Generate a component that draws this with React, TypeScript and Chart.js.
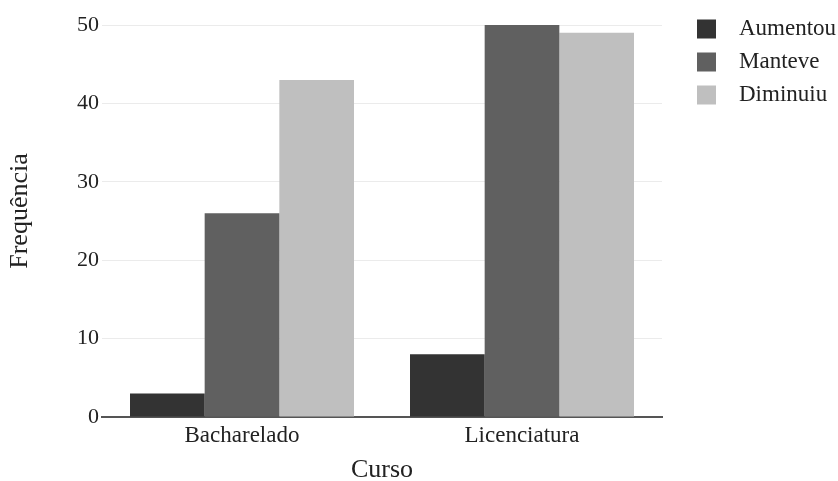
import React, { useEffect, useRef } from 'react';
import { Chart, registerables } from 'chart.js';

Chart.register(...registerables);

const categories = ['Bacharelado', 'Licenciatura'];
const seriesNames = ['Aumentou', 'Manteve', 'Diminuiu'];
const aumentou = [3, 8];
const manteve = [26, 50];
const diminuiu = [43, 49];
const yTicks = [0, 10, 20, 30, 40, 50];
const seriesColors = ['#333333', '#606060', '#bfbfbf'];
const xTitle = 'Curso';
const yTitle = 'Frequência';

const FONT = "'Liberation Serif', 'Times New Roman', serif";
const TEXT = '#222222';

const sideLegend = {
  id: 'sideLegend',
  afterDraw(chart: any) {
    const ctx = chart.ctx;
    const area = chart.chartArea;
    const boxX = chart.width - 141;
    const textX = chart.width - 99;
    const top = area.top + 4;
    ctx.save();
    ctx.font = `23px ${FONT}`;
    ctx.textBaseline = 'middle';
    ctx.textAlign = 'left';
    chart.data.datasets.forEach((ds: any, i: number) => {
      const cy = top + i * 33;
      ctx.fillStyle = ds.backgroundColor;
      ctx.fillRect(boxX, cy - 9.5, 19, 19);
      ctx.fillStyle = TEXT;
      ctx.fillText(ds.label, textX, cy);
    });
    ctx.restore();

    // y-axis title
    ctx.save();
    ctx.font = `26px ${FONT}`;
    ctx.fillStyle = TEXT;
    ctx.textAlign = 'center';
    ctx.textBaseline = 'middle';
    ctx.translate(20, (area.top + area.bottom) / 2 - 10);
    ctx.rotate(-Math.PI / 2);
    ctx.fillText(yTitle, 0, 0);
    ctx.restore();
  },
};

export default function App() {
  const ref = useRef<HTMLCanvasElement | null>(null);

  useEffect(() => {
    document.body.style.margin = '0';
    const canvas = ref.current;
    if (!canvas) return;
    const values = [aumentou, manteve, diminuiu];
    const chart = new Chart(canvas, {
      type: 'bar',
      data: {
        labels: categories,
        datasets: seriesNames.map((name, i) => ({
          label: name,
          data: values[i],
          backgroundColor: seriesColors[i],
          borderWidth: 0,
          categoryPercentage: 0.8,
          barPercentage: 1.0,
        })),
      },
      options: {
        animation: false,
        responsive: true,
        maintainAspectRatio: false,
        layout: { padding: { top: 25, right: 176, left: 0, bottom: 0 } },
        plugins: {
          legend: { display: false },
          tooltip: { enabled: false },
        },
        scales: {
          x: {
            grid: { display: false, drawTicks: false },
            border: { display: true, color: '#555555', width: 2 },
            ticks: {
              color: TEXT,
              font: { family: FONT, size: 23 },
              padding: 5,
            },
            title: {
              display: true,
              text: xTitle,
              color: TEXT,
              font: { family: FONT, size: 26, lineHeight: 1 },
              padding: { top: 0, bottom: -2 },
            },
            afterFit: (s: any) => {
              s.height = 64;
            },
          },
          y: {
            min: 0,
            max: 50,
            afterBuildTicks: (s: any) => {
              s.ticks = yTicks.map((v) => ({ value: v }));
            },
            grid: {
              drawTicks: false,
              color: (c: any) => (c.tick && c.tick.value === 0 ? 'rgba(0,0,0,0)' : '#ebebeb'),
              lineWidth: 1,
            },
            border: { display: false },
            ticks: {
              color: TEXT,
              font: { family: FONT, size: 22 },
              padding: 3,
            },
            title: { display: false },
            afterFit: (s: any) => {
              s.width = 102;
            },
          },
        },
      },
      plugins: [sideLegend],
    });
    return () => chart.destroy();
  }, []);

  return (
    <div style={{ position: 'relative', width: 838, height: 481 }}>
      <canvas ref={ref} />
    </div>
  );
}
